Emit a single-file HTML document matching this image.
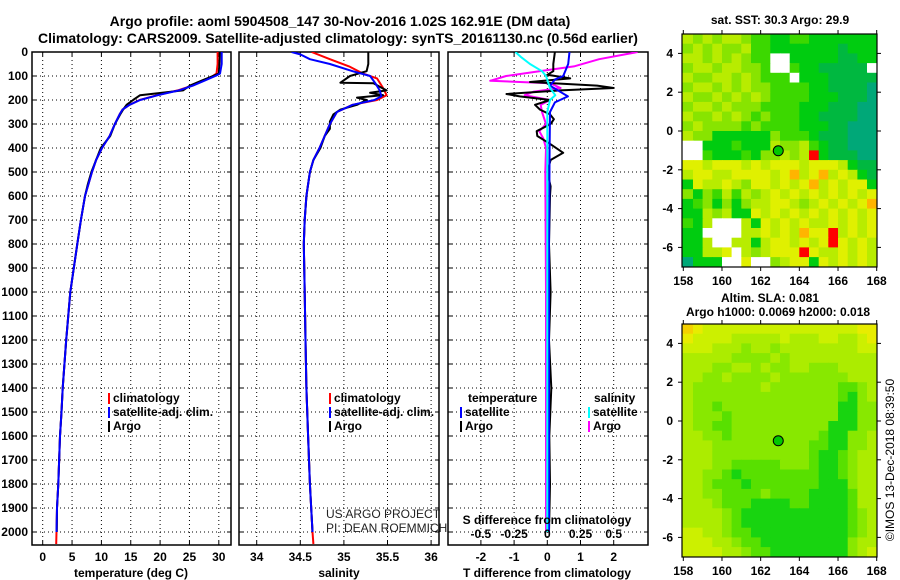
<!DOCTYPE html>
<html><head><meta charset="utf-8"><style>
html,body{margin:0;padding:0;background:#fff;}
svg{display:block;font-family:"Liberation Sans",Arial,sans-serif;}
.t{font-weight:bold;font-size:12px;}
</style></head><body>
<svg id="c" width="900" height="580" viewBox="0 0 900 580">
<text x="340" y="26" text-anchor="middle" font-size="14" font-weight="bold">Argo profile: aoml 5904508_147 30-Nov-2016 1.02S 162.91E (DM data)</text>
<text x="338" y="43" text-anchor="middle" font-size="14" font-weight="bold">Climatology: CARS2009. Satellite-adjusted climatology: synTS_20161130.nc (0.56d earlier)</text>
<text x="780" y="24" text-anchor="middle" class="t">sat. SST: 30.3 Argo: 29.9</text>
<text x="770" y="302" text-anchor="middle" class="t">Altim. SLA: 0.081</text>
<text x="778" y="316" text-anchor="middle" class="t">Argo h1000: 0.0069 h2000: 0.018</text>
<text transform="translate(894,460) rotate(-90)" text-anchor="middle" font-size="12">©IMOS 13-Dec-2018 08:39:50</text>
<text x="326" y="518" font-size="12" font-weight="300" fill="#222">US ARGO PROJECT</text>
<text x="326" y="532" font-size="12" fill="#222">PI: DEAN ROEMMICH</text>
</svg>
<script>
// ---- profile data ----
const tDepth=[0,50,90,100,120,140,160,180,200,220,240,260,300,350,400,450,500,550,600,700,800,1000,1200,1400,1500,1600,1800,1900,2000];
const tArgo=[30.2,30.1,30.0,29.0,27.0,25.1,23.9,16.6,15.4,14.3,13.7,13.2,12.3,11.5,9.9,9.1,8.3,7.7,7.2,6.5,5.9,4.7,4.0,3.4,3.2,2.95,2.66,2.44,2.4];
const tClimDepth=[0,50,90,100,120,140,160,180,200,220,240,260,300,350,400,450,500,550,600,700,800,1000,1200,1400,1500,1600,1800,1900,2000,2050];
const tClim=[29.8,29.8,29.6,29.0,27.3,25.5,23.0,19.5,16.5,14.8,13.6,13.1,12.3,11.4,10.1,9.1,8.4,7.8,7.2,6.5,5.9,4.7,4.0,3.4,3.2,2.95,2.66,2.44,2.35,2.3];
const tSat=[30.5,30.5,30.2,29.4,27.5,25.6,23.2,19.6,16.6,14.8,13.6,13.1,12.3,11.4,10.1,9.1,8.4,7.8,7.2,6.5,5.9,4.7,4.0,3.4,3.2,2.95,2.66,2.44,2.35];
const sDepth=[0,50,80,100,128,130,145,160,170,180,190,200,220,240,260,290,320,350,400,450,500,600,700,800,1000,1200,1400,1600,1800,2000];
const sArgo=[35.28,35.28,35.26,35.07,34.96,35.34,35.41,35.49,35.30,35.45,35.15,35.26,35.15,34.96,34.88,34.84,34.84,34.78,34.73,34.65,34.61,34.57,34.55,34.54,34.55,34.56,34.57,34.59,34.61,34.64];
const sClimDepth=[0,30,60,90,110,150,180,200,220,250,300,350,400,450,500,600,700,800,1000,1200,1400,1600,1800,2000,2050];
const sClim=[34.63,34.84,35.06,35.22,35.38,35.45,35.49,35.38,35.10,34.92,34.84,34.78,34.72,34.65,34.61,34.57,34.55,34.54,34.55,34.56,34.57,34.59,34.61,34.64,34.65];
const sSatDepth=[0,10,30,50,80,100,130,160,185,200,220,250,300,350,400,450,500,600,700,800,1000,1200,1400,1600,1800,2000];
const sSat=[34.40,34.50,34.61,34.84,35.10,35.30,35.36,35.41,35.43,35.35,35.10,34.92,34.84,34.78,34.72,34.65,34.61,34.57,34.55,34.54,34.55,34.56,34.57,34.59,34.61,34.64];
const dDepth=[0,50,80,95,110,125,140,150,160,175,185,200,220,240,260,280,300,330,350,380,420,450,500,560,600,800,1000,1200,1400,1600,1800,2000];
const dTArgo=[0.23,0.18,0.18,0.0,0.69,-0.52,1.5,2.0,0.4,-1.23,-0.83,0.08,-0.37,-0.22,0.08,0.2,0.1,-0.32,-0.3,0.05,0.48,0.1,0.0,0.1,0.08,0.05,0.1,0.05,0.12,0.06,0.08,0.05];
const dTSatDepth=[0,50,80,100,115,140,170,185,210,250,400,800,1200,1600,2000];
const dTSat=[0.67,0.63,0.54,0.48,0.23,0.08,0.44,0.62,0.23,0.08,0.07,0.05,0.05,0.05,0.05];
const dSArgoDepth=[0,30,60,80,100,120,130,150,165,180,200,220,250,300,330,360,400,500,1000,1500,2000];
const dSArgo=[0.68,0.39,0.2,-0.06,-0.31,-0.43,0.02,0.1,-0.1,-0.17,0.02,-0.05,-0.04,-0.01,-0.06,-0.03,-0.01,-0.015,-0.01,-0.01,-0.01];
const dSSatDepth=[0,20,50,80,100,150,180,200,250,500,1000,2000];
const dSSat=[-0.24,-0.2,-0.13,-0.04,-0.01,0.02,0.06,0.02,0.0,0.0,0.0,0.0];
const depthTicks=[0,100,200,300,400,500,600,700,800,900,1000,1100,1200,1300,1400,1500,1600,1700,1800,1900,2000];
const tTicks=[0,5,10,15,20,25,30];
const sTicks=[34,34.5,35,35.5,36];
const dTTicks=[-2,-1,0,1,2];
const dSTicks=[-0.5,-0.25,0,0.25,0.5];
const dSTickLabels=["-0.5","-0.25","0","0.25","0.5"];
// ---- map data (0.5 deg cells, rows from 5N to 7S, cols 158E..168E) ----
const sstRows=[
"54545543322332222222","45454453322222221222","554545433WW222221122","455455443WW32211111W",
"54455454333W22211111","45545454433332211110","54454545433332221110","45545444333322211100",
"54454543433322111100","45444434333322211000","54422222243332111000","WW222322254453211000",
"WW322232445458211100","66566656566656665211","56655666656756756521","26556546656567565662",
"42435354565656565656","23424245566545656567","22545226565656565656","325WWW52656565565656",
"22WWWW55656576685656","225WW552566565686565","22556W54566686556565","0222WW6WW45662656565"];
const slaRows=[
"87666666666666666677","76666555556555665567","66655545545555555566","55555444454555555555",
"55544554544554445555","55445444454444444555","54444444544444443345","54444444444444443245",
"54434444444444442244","54443444444444442244","54433444444444422244","55443444444444322445",
"55544444444443322445","55544444444443223455","55544333334443223455","55443233333333223455",
"55433323333333222455","55443333433332222355","55543332222332222355","55554322222222222345",
"55554322222222222345","66554332222222222345","66655433222222222455","66665543322222222456"];
const argoLon=162.91, argoLat=-1.02;

const NS="http://www.w3.org/2000/svg";
const svg=document.getElementById('c');
function el(tag,attrs,parent){const e=document.createElementNS(NS,tag);for(const k in attrs)e.setAttribute(k,attrs[k]);(parent||svg).appendChild(e);return e;}
function txt(x,y,s,attrs,parent){const e=el('text',Object.assign({x:x,y:y},attrs),parent);e.textContent=s;return e;}

const TOP=52, PXM=0.24, BOT=545;
const yD=d=>TOP+d*PXM;
const xT=v=>42.7+v*5.87;
const xS=v=>256.7+(v-34)*87.2;
const xDT=v=>547.3+v*33.2;
const xDS=v=>547.3+v*132.8;

function panel(id,x0,x1,xTicksArr,xf,labels){
  const g=el('g',{});
  
  
  const cp=el('clipPath',{id:'cp-'+id},g);
  el('rect',{x:x0,y:TOP,width:x1-x0,height:BOT-TOP},cp);
  depthTicks.forEach(d=>{
    const l=el('line',{x1:x0,x2:x1,y1:yD(d),y2:yD(d),stroke:'#000','stroke-width':1,'stroke-dasharray':'1,3'},g);
    
    
    el('line',{x1:x0,x2:x0+4,y1:yD(d),y2:yD(d),stroke:'#000'},g);
    el('line',{x1:x1-4,x2:x1,y1:yD(d),y2:yD(d),stroke:'#000'},g);
  });
  xTicksArr.forEach(v=>{
    const l=el('line',{x1:xf(v),x2:xf(v),y1:TOP,y2:BOT,stroke:'#000','stroke-width':1,'stroke-dasharray':'1,3'},g);
    
    
    el('line',{x1:xf(v),x2:xf(v),y1:TOP,y2:TOP+4,stroke:'#000'},g);
    el('line',{x1:xf(v),x2:xf(v),y1:BOT-4,y2:BOT,stroke:'#000'},g);
  });
  if(labels) xTicksArr.forEach(v=>{
    const t=txt(xf(v),561,String(v),{'text-anchor':'middle',class:'t'},g);
    
    
  });
  const fr=el('rect',{x:x0,y:TOP,width:x1-x0,height:BOT-TOP,fill:'none',stroke:'#000','stroke-width':1.5},g);
  
  
  return g;
}
function series(g,id,name,dep,vals,xf,color,w){
  const pts=dep.map((d,i)=>xf(vals[i]).toFixed(1)+','+yD(d).toFixed(1)).join(' ');
  const p=el('polyline',{points:pts,fill:'none',stroke:color,'stroke-width':w||2,'clip-path':'url(#cp-'+id+')','stroke-linejoin':'round'},g);
  
  
}
function legend(g,x,y,color,label){
  el('rect',{x:x,y:y-9,width:2,height:11,fill:color},g);
  const t=txt(x+5,y,label,{class:'t'},g);
  
  
}

depthTicks.forEach(d=>{
  const t=txt(28,yD(d)+4,String(d),{'text-anchor':'end',class:'t'});
  
  
});

const g1=panel('temperature-panel',32,231,tTicks,xT,true);
series(g1,'temperature-panel','temperature-climatology-line',tClimDepth,tClim,xT,'#f00');
series(g1,'temperature-panel','temperature-argo-line',tDepth,tArgo,xT,'#000');
series(g1,'temperature-panel','temperature-satellite-line',tDepth,tSat,xT,'#00f');
legend(g1,108,402,'#f00','climatology');
legend(g1,108,416,'#00f','satellite-adj. clim.');
legend(g1,108,430,'#000','Argo');
const xl1=txt(131,577,'temperature (deg C)',{'text-anchor':'middle',class:'t'});



const g2=panel('salinity-panel',239,439,sTicks,xS,true);
series(g2,'salinity-panel','salinity-climatology-line',sClimDepth,sClim,xS,'#f00');
series(g2,'salinity-panel','salinity-argo-line',sDepth,sArgo,xS,'#000');
series(g2,'salinity-panel','salinity-satellite-line',sSatDepth,sSat,xS,'#00f');
legend(g2,329,402,'#f00','climatology');
legend(g2,329,416,'#00f','satellite-adj. clim.');
legend(g2,329,430,'#000','Argo');
const xl2=txt(339,577,'salinity',{'text-anchor':'middle',class:'t'});



const g3=panel('difference-panel',448,648,dTTicks,xDT,true);
series(g3,'difference-panel','salinity-argo-diff-line',dSArgoDepth,dSArgo,xDS,'#f0f');
series(g3,'difference-panel','temperature-argo-diff-line',dDepth,dTArgo,xDT,'#000');
series(g3,'difference-panel','temperature-satellite-diff-line',dTSatDepth,dTSat,xDT,'#00f');
series(g3,'difference-panel','salinity-satellite-diff-line',dSSatDepth,dSSat,xDS,'#0ff');
const lt=txt(468,402,'temperature',{class:'t'},g3);


legend(g3,460,416,'#00f','satellite');
legend(g3,460,430,'#000','Argo');
const ls=txt(594,402,'salinity',{class:'t'},g3);


legend(g3,588,416,'#0ff','satellite');
legend(g3,588,430,'#f0f','Argo');
const sdt=txt(547,524,'S difference from climatology',{'text-anchor':'middle',class:'t'});


dSTicks.forEach((v,i)=>{
  const t=txt(xDS(v),538,dSTickLabels[i],{'text-anchor':'middle',class:'t'});
  
  
});
const xl3=txt(547,577,'T difference from climatology',{'text-anchor':'middle',class:'t'});



const lonTicks=[158,160,162,164,166,168];
const latTicks=[4,2,0,-2,-4,-6];
const sstPal={'0':'#00a878','1':'#00b840','2':'#00cc10','3':'#3cd800','4':'#88e400','5':'#b8ec00','6':'#e0f000','7':'#ffb400','8':'#ff0000','W':'#ffffff'};
const slaPal={'2':'#18d410','3':'#58e000','4':'#88e800','5':'#acec00','6':'#ccf000','7':'#e8ec00','8':'#f4d000'};
function map(id,top,rows,pal){
  const bottom=top+233;
  const xL=lon=>683.3+(lon-158)*19.34;
  const yL=lat=>top+(5-lat)*19.4;
  const g=el('g',{});
  
  
  const cp=el('clipPath',{id:'cp-'+id},g);
  el('rect',{x:682,y:top,width:195,height:233},cp);
  const cg=el('g',{'clip-path':'url(#cp-'+id+')'},g);
  rows.forEach((r,ri)=>{
    for(let ci=0;ci<20;ci++){
      const ch=r[ci]||r[r.length-1];
      const lon=158+ci*0.5, lat=5-ri*0.5;
      const x=xL(lon)-(ci===0?2:0), y=yL(lat);
      const c=el('rect',{x:x.toFixed(1),y:y.toFixed(1),width:(xL(lon+0.5)-x+0.6).toFixed(1),height:(yL(lat-0.5)-y+0.6).toFixed(1),fill:pal[ch]||'#fff'},cg);
      
      
    }
  });
  const m=el('circle',{cx:xL(argoLon),cy:yL(argoLat),r:5,fill:'#00c800',stroke:'#000','stroke-width':1},g);
  
  
  el('rect',{x:682,y:top,width:195,height:233,fill:'none',stroke:'#000','stroke-width':1.2},g);
  lonTicks.forEach(v=>{
    el('line',{x1:xL(v),x2:xL(v),y1:top-4,y2:top,stroke:'#000'},g);
    el('line',{x1:xL(v),x2:xL(v),y1:bottom,y2:bottom+4,stroke:'#000'},g);
    const t=txt(xL(v),bottom+18,String(v),{'text-anchor':'middle',class:'t'},g);
    
    
  });
  latTicks.forEach(v=>{
    el('line',{x1:678,x2:682,y1:yL(v),y2:yL(v),stroke:'#000'},g);
    el('line',{x1:877,x2:881,y1:yL(v),y2:yL(v),stroke:'#000'},g);
    const t=txt(673,yL(v)+4,String(v),{'text-anchor':'end',class:'t'},g);
    
    
  });
}
map('sst-map',34,sstRows,sstPal);
map('sla-map',324,slaRows,slaPal);
</script>
</body></html>
